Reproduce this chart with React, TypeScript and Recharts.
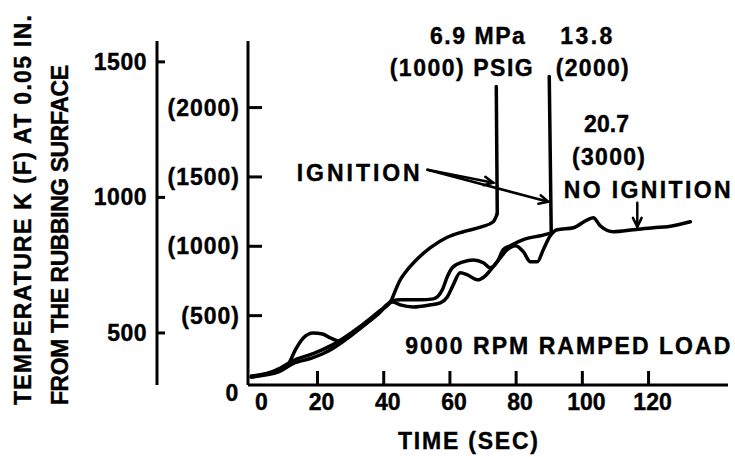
import React from 'react';
import { LineChart, Line, XAxis, YAxis, ReferenceLine, ReferenceDot, Label } from 'recharts';

// time (sec) vs temperature (F)
const run69 = [
  { t: 0, f: 58 }, { t: 4.2, f: 79 }, { t: 8.8, f: 123 }, { t: 12.4, f: 173 },
  { t: 18.4, f: 224 }, { t: 23.9, f: 282 }, { t: 28.4, f: 347 }, { t: 33.5, f: 433 },
  { t: 38.4, f: 527 }, { t: 42.3, f: 610 }, { t: 43.5, f: 680 }, { t: 44.8, f: 750 },
  { t: 46.8, f: 820 }, { t: 50.2, f: 910 }, { t: 54.1, f: 990 }, { t: 59.2, f: 1065 },
  { t: 64.0, f: 1105 }, { t: 69.5, f: 1140 }, { t: 73.1, f: 1177 }, { t: 74.3, f: 1235 },
];
const rise69 = [{ t: 74.3, f: 1235 }, { t: 74.0, f: 2152 }];

const run138 = [
  { t: 0, f: 65 }, { t: 4.2, f: 79 }, { t: 8.2, f: 108 }, { t: 11.2, f: 152 },
  { t: 13.3, f: 253 }, { t: 15.7, f: 339 }, { t: 18.7, f: 375 }, { t: 21.5, f: 368 },
  { t: 23.9, f: 339 }, { t: 26.3, f: 318 }, { t: 29.9, f: 361 }, { t: 33.5, f: 426 },
  { t: 38.4, f: 520 }, { t: 42.6, f: 606 }, { t: 45.0, f: 614 }, { t: 48.0, f: 614 },
  { t: 51.1, f: 614 }, { t: 55.0, f: 621 }, { t: 57.7, f: 686 }, { t: 59.2, f: 780 },
  { t: 60.7, f: 845 }, { t: 64.0, f: 888 }, { t: 67.1, f: 902 }, { t: 70.1, f: 881 },
  { t: 72.2, f: 845 }, { t: 74.3, f: 888 }, { t: 76.1, f: 975 }, { t: 78.2, f: 1004 },
  { t: 82.8, f: 1054 }, { t: 87.3, f: 1076 }, { t: 90.6, f: 1097 },
];
const rise138 = [{ t: 90.6, f: 1097 }, { t: 90.0, f: 2224 }];

const run207 = [
  { t: 0, f: 58 }, { t: 4.2, f: 72 }, { t: 8.2, f: 94 }, { t: 12.4, f: 152 },
  { t: 18.4, f: 195 }, { t: 23.3, f: 245 }, { t: 28.4, f: 325 }, { t: 33.5, f: 419 },
  { t: 38.4, f: 513 }, { t: 42.6, f: 599 }, { t: 45.0, f: 578 }, { t: 48.9, f: 563 },
  { t: 54.1, f: 578 }, { t: 57.1, f: 592 }, { t: 59.2, f: 635 }, { t: 61.0, f: 722 },
  { t: 63.1, f: 809 }, { t: 65.3, f: 794 }, { t: 68.3, f: 758 }, { t: 70.7, f: 787 },
  { t: 72.8, f: 845 }, { t: 75.2, f: 917 }, { t: 77.3, f: 975 }, { t: 79.8, f: 1004 },
  { t: 82.2, f: 960 }, { t: 84.3, f: 888 }, { t: 86.4, f: 888 }, { t: 88.2, f: 975 },
  { t: 90.3, f: 1076 }, { t: 92.4, f: 1119 }, { t: 97.3, f: 1134 }, { t: 101.5, f: 1191 },
  { t: 103.3, f: 1206 }, { t: 105.4, f: 1148 }, { t: 109.4, f: 1105 }, { t: 115.4, f: 1119 },
  { t: 121.5, f: 1134 }, { t: 125.7, f: 1141 }, { t: 132.6, f: 1177 },
];

const timeTicks = [0, 20, 40, 60, 80, 100, 120];
const fTicks = [0, 500, 1000, 1500, 2000];
const kTicks = [500, 1000, 1500];

const notes = [
  { text: '6.9 MPa', t: 68.3, f: 2513, len: 95 },
  { text: '(1000) PSIG', t: 63.4, f: 2282, len: 143 },
  { text: '13.8', t: 101.2, f: 2513, len: 52 },
  { text: '(2000)', t: 103.0, f: 2282, len: 73 },
  { text: '20.7', t: 107.3, f: 1884, len: 45 },
  { text: '(3000)', t: 107.9, f: 1646, len: 73 },
  { text: 'NO IGNITION', t: 119.6, f: 1408, len: 167 },
  { text: 'IGNITION', t: 32.3, f: 1531, len: 123 },
  { text: '9000 RPM RAMPED LOAD', t: 95.6, f: 282, len: 325 },
];

const arrows = [
  { t1: 53.2, f1: 1552, t2: 73.1, f2: 1458 },
  { t1: 53.2, f1: 1552, t2: 89.7, f2: 1321 },
  { t1: 116.6, f1: 1314, t2: 116.6, f2: 1140 },
];

const T_DOMAIN = [-1, 144];
const F_DOMAIN = [0, 2480];
const K_DOMAIN = [308, 1577];
const PLOT_W = 480;
const PLOT_H = 344;
const F_AXIS_W = 91;
const K_AXIS_W = 157;

// inward tick marks, 14 px long, expressed in axis units
const TICK_T = (14 * (T_DOMAIN[1] - T_DOMAIN[0])) / PLOT_W;
const TICK_F = (14 * (F_DOMAIN[1] - F_DOMAIN[0])) / PLOT_H;
const timeMarks = timeTicks.filter((v) => v > 0).map((v) => [{ t: v, f: F_DOMAIN[0] }, { t: v, f: F_DOMAIN[0] + TICK_F }]);
const fMarks = fTicks.filter((v) => v > 0).map((v) => [{ t: T_DOMAIN[0], f: v }, { t: T_DOMAIN[0] + TICK_T, f: v }]);

const font = {
  fontFamily: '"Liberation Sans", Arial, Helvetica, sans-serif',
  fontWeight: 700,
  fontSize: 23,
  fill: '#000',
  stroke: '#000',
  strokeWidth: 0.4,
};

const axisStroke = { stroke: '#000', strokeWidth: 3 };

const FTick = (p: any) => {
  const { x, y, payload } = p;
  if (payload.value === 0) {
    return <text x={x - 16} y={y + 8} textAnchor="middle" dominantBaseline="central" {...font}>0</text>;
  }
  return (
    <text x={x - 8} y={y} textAnchor="end" dominantBaseline="central" letterSpacing={1} {...font}>
      ({payload.value})
    </text>
  );
};

const KTick = (p: any) => {
  const { x, y, payload } = p;
  return (
    <text x={x - 10} y={y} textAnchor="end" dominantBaseline="central" letterSpacing={0.5} {...font}>
      {payload.value}
    </text>
  );
};

const TimeTick = (p: any) => {
  const { x, y, payload } = p;
  const v = payload.value;
  return (
    <text x={x + (v === 0 ? 10 : 4)} y={y + 17} textAnchor="middle" dominantBaseline="central" {...font}>
      {v}
    </text>
  );
};

const KMark = (p: any) => {
  const x = Math.min(p.x1, p.x2) - F_AXIS_W;
  return <path d={`M${x},${p.y1} L${x + 8},${p.y1}`} stroke="#000" strokeWidth={3} fill="none" />;
};

const ArrowShape = (p: any) => {
  const { x1, y1, x2, y2 } = p;
  const a = Math.atan2(y2 - y1, x2 - x1);
  const h = 10;
  const s = 0.45;
  const ax = x2 - h * Math.cos(a - s);
  const ay = y2 - h * Math.sin(a - s);
  const bx = x2 - h * Math.cos(a + s);
  const by = y2 - h * Math.sin(a + s);
  return (
    <g stroke="#000" strokeWidth={2.5} fill="none" strokeLinecap="round">
      <line x1={x1} y1={y1} x2={x2} y2={y2} />
      <path d={`M${ax},${ay} L${x2},${y2} L${bx},${by}`} />
    </g>
  );
};

const XTitle = (p: any) => {
  const vb = p.viewBox;
  return (
    <text x={vb.x + 220} y={vb.y + 56} textAnchor="middle" dominantBaseline="central" textLength={140} {...font}>
      TIME (SEC)
    </text>
  );
};

const YTitle = (p: any) => {
  const vb = p.viewBox;
  const by = vb.y + vb.height + 20;
  const x1 = vb.x + 23;
  const x2 = vb.x + 60;
  return (
    <g>
      <text x={x1} y={by} transform={`rotate(-90, ${x1}, ${by})`} textAnchor="start" dominantBaseline="central" textLength={390} {...font}>
        TEMPERATURE K (F) AT 0.05 IN.
      </text>
      <text x={x2} y={by} transform={`rotate(-90, ${x2}, ${by})`} textAnchor="start" dominantBaseline="central" textLength={340} {...font}>
        FROM THE RUBBING SURFACE
      </text>
    </g>
  );
};

const lineProps = {
  xAxisId: 0,
  yAxisId: 'f',
  dataKey: 'f',
  stroke: '#000',
  strokeWidth: 3.5,
  dot: false,
  activeDot: false,
  isAnimationActive: false,
  strokeLinecap: 'round' as const,
  strokeLinejoin: 'round' as const,
};

export default function App() {
  return (
    <div style={{ position: 'absolute', left: 0, top: 0, background: '#fff' }}>
      <LineChart width={735} height={457} margin={{ top: 41, right: 7, bottom: 0, left: 0 }}>
        <XAxis
          xAxisId={0}
          dataKey="t"
          type="number"
          domain={T_DOMAIN}
          allowDataOverflow
          ticks={timeTicks}
          tick={TimeTick}
          tickLine={false}
          tickSize={0}
          tickMargin={0}
          axisLine={axisStroke}
          height={72}
        >
          <Label content={<XTitle />} />
        </XAxis>
        <YAxis
          yAxisId="f"
          type="number"
          domain={F_DOMAIN}
          allowDataOverflow
          ticks={fTicks}
          tick={FTick}
          tickLine={false}
          tickSize={0}
          tickMargin={0}
          axisLine={axisStroke}
          width={F_AXIS_W}
        />
        <YAxis
          yAxisId="k"
          type="number"
          domain={K_DOMAIN}
          allowDataOverflow
          ticks={kTicks}
          tick={KTick}
          tickLine={false}
          tickSize={0}
          tickMargin={0}
          axisLine={axisStroke}
          width={K_AXIS_W}
        >
          <Label content={<YTitle />} />
        </YAxis>

        {timeMarks.map((m, i) => (
          <Line key={'xm' + i} {...lineProps} data={m} type="linear" strokeWidth={3} strokeLinecap="butt" />
        ))}
        {fMarks.map((m, i) => (
          <Line key={'fm' + i} {...lineProps} data={m} type="linear" strokeWidth={3} strokeLinecap="butt" />
        ))}
        {kTicks.map((v) => (
          <ReferenceLine
            key={'kt' + v}
            yAxisId="k"
            segment={[{ x: T_DOMAIN[0], y: v }, { x: T_DOMAIN[0] + TICK_T, y: v }]}
            ifOverflow="visible"
            shape={(p: any) => <KMark {...p} />}
          />
        ))}

        <Line {...lineProps} data={run69} type="monotone" name="6.9 MPa" />
        <Line {...lineProps} data={rise69} type="linear" name="6.9 MPa ignition" />
        <Line {...lineProps} data={run138} type="monotone" name="13.8 MPa" />
        <Line {...lineProps} data={rise138} type="linear" name="13.8 MPa ignition" />
        <Line {...lineProps} data={run207} type="monotone" name="20.7 MPa" />

        {arrows.map((a, i) => (
          <ReferenceLine
            key={'a' + i}
            yAxisId="f"
            segment={[{ x: a.t1, y: a.f1 }, { x: a.t2, y: a.f2 }]}
            ifOverflow="visible"
            shape={(p: any) => <ArrowShape {...p} />}
          />
        ))}
        {notes.map((n, i) => (
          <ReferenceDot
            key={'n' + i}
            yAxisId="f"
            x={n.t}
            y={n.f}
            r={1}
            ifOverflow="visible"
            shape={(p: any) => (
              <text x={p.cx} y={p.cy} textAnchor="middle" dominantBaseline="central" textLength={n.len} {...font}>
                {n.text}
              </text>
            )}
          />
        ))}
      </LineChart>
    </div>
  );
}
